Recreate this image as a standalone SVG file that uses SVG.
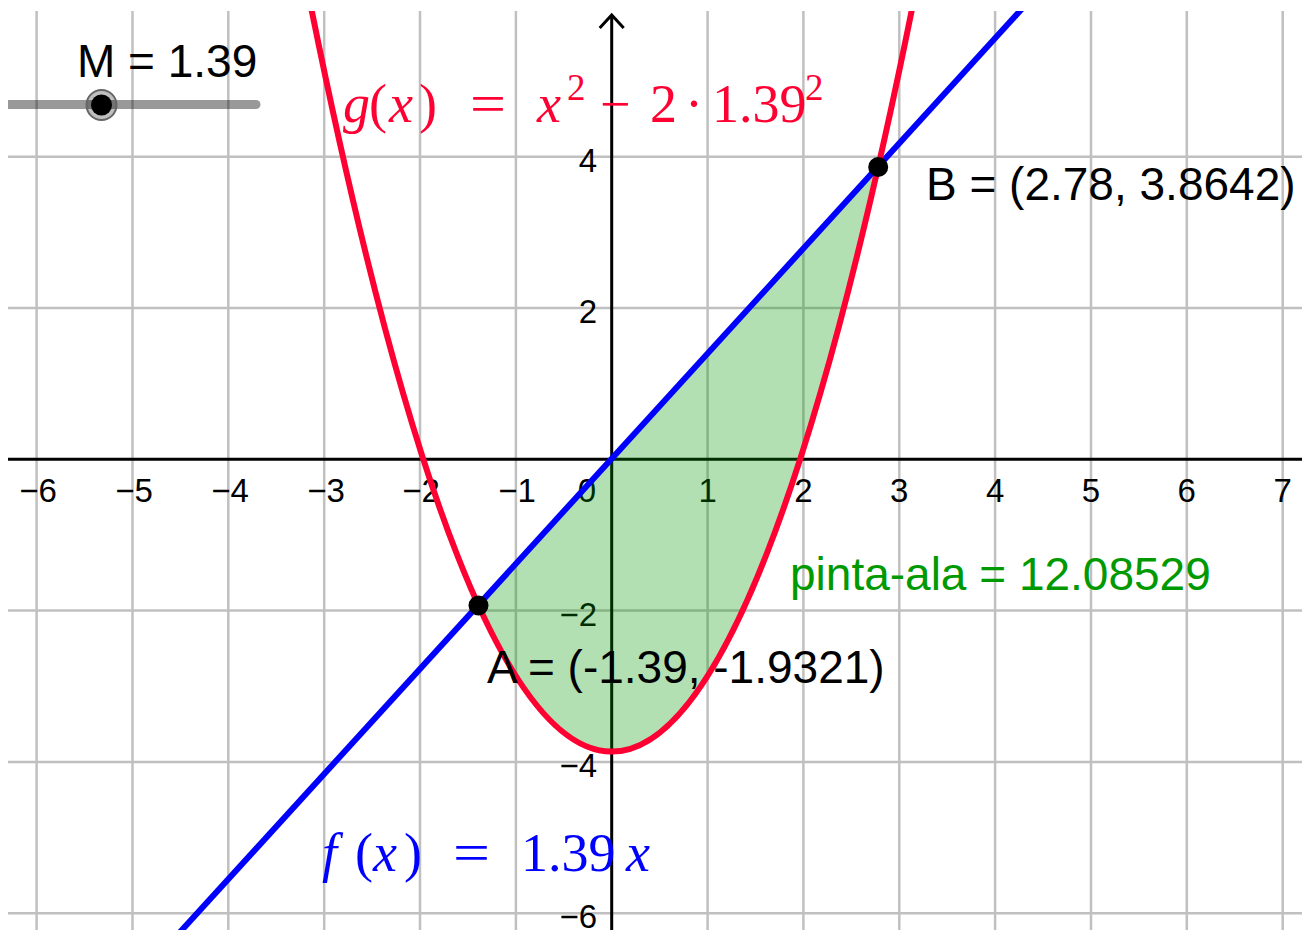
<svg xmlns="http://www.w3.org/2000/svg" width="1304" height="930" viewBox="0 0 1304 930">
<style>
.grid line{stroke:#c0c0c0;stroke-width:2.5}
.axis{stroke:#000;stroke-width:3;fill:none}
.tick{font-family:"Liberation Sans",Arial,sans-serif;font-size:33px;fill:#000}
.tx{text-anchor:middle}
.ty{text-anchor:end}
.lbl{font-family:"Liberation Sans",Arial,sans-serif;font-size:46px;fill:#000}
.tex{font-family:"Liberation Serif","Times New Roman",serif;font-size:54px}
.it{font-style:italic}
.sup{font-size:37px}
</style>
<defs>
<clipPath id="view"><rect x="8" y="11" width="1294" height="919"/></clipPath>
</defs>
<rect width="1304" height="930" fill="#fff"/>
<g clip-path="url(#view)">
<g id="grid" class="grid">
<line x1="36.6" y1="11" x2="36.6" y2="930"/>
<line x1="132.5" y1="11" x2="132.5" y2="930"/>
<line x1="228.3" y1="11" x2="228.3" y2="930"/>
<line x1="324.2" y1="11" x2="324.2" y2="930"/>
<line x1="420" y1="11" x2="420" y2="930"/>
<line x1="515.9" y1="11" x2="515.9" y2="930"/>
<line x1="707.6" y1="11" x2="707.6" y2="930"/>
<line x1="803.4" y1="11" x2="803.4" y2="930"/>
<line x1="899.3" y1="11" x2="899.3" y2="930"/>
<line x1="995.1" y1="11" x2="995.1" y2="930"/>
<line x1="1091" y1="11" x2="1091" y2="930"/>
<line x1="1186.8" y1="11" x2="1186.8" y2="930"/>
<line x1="1282.7" y1="11" x2="1282.7" y2="930"/>
<line x1="8" y1="156.7" x2="1302" y2="156.7"/>
<line x1="8" y1="308" x2="1302" y2="308"/>
<line x1="8" y1="610.6" x2="1302" y2="610.6"/>
<line x1="8" y1="761.9" x2="1302" y2="761.9"/>
<line x1="8" y1="913.2" x2="1302" y2="913.2"/>
</g>
<g id="axes">
<line class="axis" x1="8" y1="459.3" x2="1302" y2="459.3"/>
<line class="axis" x1="611.7" y1="15" x2="611.7" y2="930"/>
<polyline class="axis" points="599.7,28 611.7,15 623.7,28"/>
</g>
<g id="ticklabels" class="tick">
<text class="tx" x="38" y="502">−6</text>
<text class="tx" x="134" y="502">−5</text>
<text class="tx" x="230" y="502">−4</text>
<text class="tx" x="326" y="502">−3</text>
<text class="tx" x="421" y="502">−2</text>
<text class="tx" x="517" y="502">−1</text>
<text class="tx" x="587" y="502">0</text>
<text class="tx" x="707.6" y="502">1</text>
<text class="tx" x="803.4" y="502">2</text>
<text class="tx" x="899.3" y="502">3</text>
<text class="tx" x="995.1" y="502">4</text>
<text class="tx" x="1091" y="502">5</text>
<text class="tx" x="1186.8" y="502">6</text>
<text class="tx" x="1282.7" y="502">7</text>
<text class="ty" x="597" y="171.7">4</text>
<text class="ty" x="597" y="323">2</text>
<text class="ty" x="597" y="625.6">−2</text>
<text class="ty" x="597" y="776.9">−4</text>
<text class="ty" x="597" y="927.5">−6</text>
</g>
<g id="area">
<path d="M478.5,605.5 L878.2,167 Q678.35,1043.9 478.5,605.5 Z" fill="#009900" fill-opacity="0.3"/>
</g>
<g id="connectors">
<line id="f" x1="150" y1="965" x2="1050" y2="-22" stroke="#0000ff" stroke-width="6"/>
<path id="g" d="M301.7,-39.7 Q611.7,1542.9 921.7,-39.7" fill="none" stroke="#ff0033" stroke-width="6"/>
</g>
<g id="slider">
<line x1="8" y1="104.5" x2="256" y2="104.5" stroke="#000" stroke-opacity="0.4" stroke-width="9" stroke-linecap="round"/>
</g>
</g>
<g id="sliderpoint">
<circle cx="101.5" cy="105" r="15" fill="#000" fill-opacity="0.25" stroke="#666" stroke-width="2"/>
<circle cx="101.5" cy="105" r="10.5" fill="#000"/>
<text class="lbl" x="77" y="77">M = 1.39</text>
</g>
<g id="pointA"><circle cx="478.5" cy="605.5" r="10" fill="#000"/></g>
<g id="pointB"><circle cx="878.2" cy="167" r="10" fill="#000"/></g>
<g id="labels">
<text class="lbl" x="926" y="200">B = (2.78, 3.8642)</text>
<text class="lbl" x="487" y="683">A = (-1.39, -1.9321)</text>
<text class="lbl" x="790" y="590" style="fill:#009900">pinta-ala = 12.08529</text>
</g>
<g id="glabel" class="tex" fill="#ff0033">
<text x="343" y="122" class="it">g</text>
<text x="369" y="122">(</text>
<text x="389" y="122" class="it">x</text>
<text x="419" y="122">)</text>
<text x="470" y="122" textLength="36" lengthAdjust="spacingAndGlyphs">=</text>
<text x="537" y="122" class="it">x</text>
<text x="567" y="100" class="sup">2</text>
<text x="600" y="122">−</text>
<text x="650" y="122">2</text>
<text x="685" y="122">·</text>
<text x="712" y="122">1.39</text>
<text x="805" y="100" class="sup">2</text>
</g>
<g id="flabel" class="tex" fill="#0000ff">
<text x="322" y="871" class="it">f</text>
<text x="355" y="871">(</text>
<text x="373" y="871" class="it">x</text>
<text x="404" y="871">)</text>
<text x="453" y="871" textLength="37" lengthAdjust="spacingAndGlyphs">=</text>
<text x="521" y="871">1.39</text>
<text x="626" y="871" class="it">x</text>
</g>
</svg>
